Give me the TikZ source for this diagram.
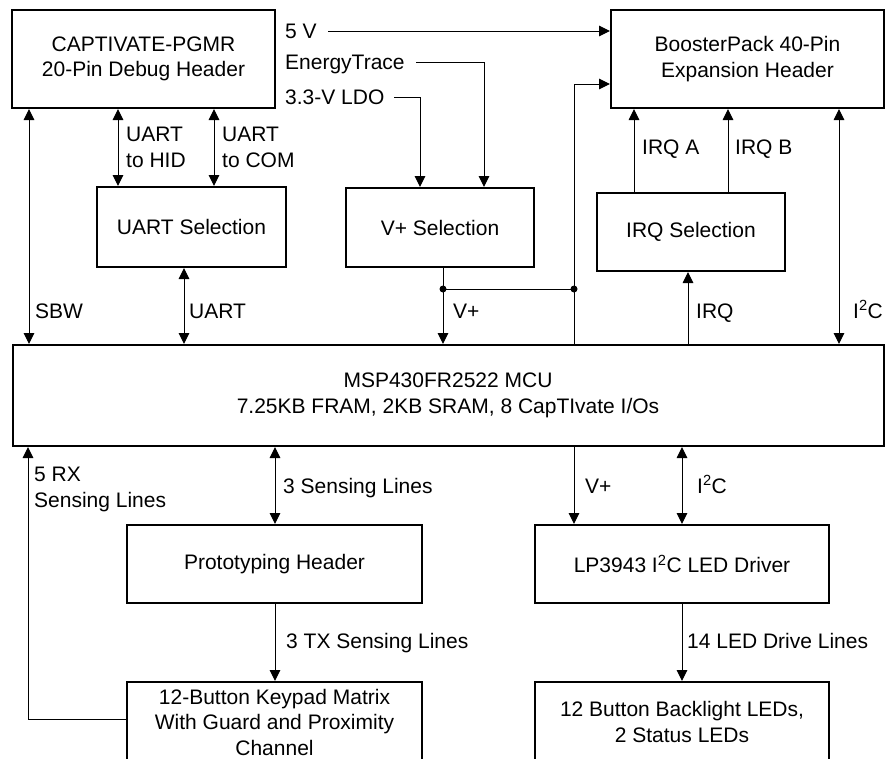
\documentclass[tikz,border=0pt]{standalone}
\usepackage{fontspec}
\setmainfont{Liberation Sans}
\usetikzlibrary{arrows.meta}
\begin{document}
\begin{tikzpicture}[x=1pt,y=-1pt,
  every node/.style={font=\fontsize{21}{25.5}\selectfont, inner sep=0pt},
  box/.style={draw, line width=2pt, align=center},
  conn/.style={line width=1pt},
  arr/.style={conn,-{Triangle[length=11pt,width=10.5pt]}},
  dbl/.style={conn,{Triangle[length=11pt,width=10.5pt]}-{Triangle[length=11pt,width=10.5pt]}},
  lbl/.style={anchor=base west, align=left},
  dot/.style={fill, circle, minimum size=7pt, inner sep=0pt}]
\useasboundingbox (0,0) rectangle (886,758);
\clip (0,0) rectangle (886,758);

% boxes
\node[box, minimum width=263pt, minimum height=98pt] (cap) at (143.5,59) {CAPTIVATE-PGMR\\20-Pin Debug Header};
\node[box, minimum width=273pt, minimum height=98pt] (boost) at (747.5,59) {BoosterPack 40-Pin\\Expansion Header};
\node[box, minimum width=189pt, minimum height=80pt] (uart) at (191.5,227) {UART Selection};
\node[box, minimum width=188pt, minimum height=79pt] (vsel) at (440,227.5) {V+ Selection};
\node[box, minimum width=188pt, minimum height=78pt] (irqs) at (691,232) {IRQ Selection};
\node[box, minimum width=871pt, minimum height=101pt] (mcu) at (448,395.5) {MSP430FR2522 MCU\\7.25KB FRAM, 2KB SRAM, 8 CapTIvate I/Os};
\node[box, minimum width=295pt, minimum height=78pt] (proto) at (274.5,564) {Prototyping Header};
\node[box, minimum width=294pt, minimum height=78pt] (lp) at (682,564) {LP3943 I\textsuperscript{2}C LED Driver};
\node[box, minimum width=295pt, minimum height=80pt] (keypad) at (274.5,722) {12-Button Keypad Matrix\\With Guard and Proximity\\Channel};
\node[box, minimum width=294pt, minimum height=80pt] (leds) at (682,722) {12 Button Backlight LEDs,\\2 Status LEDs};

% labels
\node[lbl] (l5v) at (285,38) {5 V};
\node[lbl] (let) at (285,69) {EnergyTrace};
\node[lbl] (lldo) at (285,104) {3.3-V LDO};
\node[lbl] (lhid) at (126,167) {UART\\to HID};
\node[lbl] (lcom) at (222,167) {UART\\to COM};
\node[lbl] (lsbw) at (35,318) {SBW};
\node[lbl] (luart) at (189,318) {UART};
\node[lbl] (lvp) at (453,318) {V+};
\node[lbl] (lirq) at (696,318) {IRQ};
\node[lbl] (li2c) at (853,318) {I\textsuperscript{2}C};
\node[lbl] (lirqa) at (642,154) {IRQ A};
\node[lbl] (lirqb) at (735,154) {IRQ B};
\node[lbl] (lrx) at (34,507) {5 RX\\Sensing Lines};
\node[lbl] (l3s) at (283,493) {3 Sensing Lines};
\node[lbl] (l3tx) at (286,648) {3 TX Sensing Lines};
\node[lbl] (lvb) at (585,493) {V+};
\node[lbl] (li2cb) at (697,493) {I\textsuperscript{2}C};
\node[lbl] (l14) at (687,648) {14 LED Drive Lines};

% column / row coordinates
\coordinate (xSBW) at (29,0);
\coordinate (xHID) at (118,0);
\coordinate (xCOM) at (214,0);
\coordinate (xUART) at (184,0);
\coordinate (xLDO) at (420,0);
\coordinate (xET) at (484,0);
\coordinate (xVp) at (443,0);
\coordinate (xJ) at (574,0);
\coordinate (xIRQ) at (688,0);
\coordinate (xIRQA) at (634,0);
\coordinate (xIRQB) at (728,0);
\coordinate (xI2C) at (839,0);
\coordinate (xRX) at (28,0);
\coordinate (x3S) at (275,0);
\coordinate (xVb) at (574,0);
\coordinate (xI2Cb) at (682,0);
\coordinate (y5V) at (0,31);
\coordinate (yET) at (0,62);
\coordinate (yLDO) at (0,97);
\coordinate (yB) at (0,84);
\coordinate (yJ) at (0,289);
\coordinate (yRX) at (0,719);
\coordinate (s5V) at (328,0);
\coordinate (sET) at (416,0);
\coordinate (sLDO) at (394,0);

% connectors
\draw[dbl] (cap.south -| xSBW) -- (mcu.north -| xSBW);
\draw[dbl] (cap.south -| xHID) -- (uart.north -| xHID);
\draw[dbl] (cap.south -| xCOM) -- (uart.north -| xCOM);
\draw[dbl] (uart.south -| xUART) -- (mcu.north -| xUART);
\draw[arr] (s5V |- y5V) -- (boost.west |- y5V);
\draw[arr] (sET |- yET) -| (vsel.north -| xET);
\draw[arr] (sLDO |- yLDO) -| (vsel.north -| xLDO);
\draw[arr] (mcu.north -| xJ) |- (boost.west |- yB);
\draw[arr] (vsel.south -| xVp) -- (mcu.north -| xVp);
\draw[conn] (xVp |- yJ) -- (xJ |- yJ);
\node[dot] (j1) at (xVp |- yJ) {};
\node[dot] (j2) at (xJ |- yJ) {};
\draw[arr] (mcu.north -| xIRQ) -- (irqs.south -| xIRQ);
\draw[arr] (irqs.north -| xIRQA) -- (boost.south -| xIRQA);
\draw[arr] (irqs.north -| xIRQB) -- (boost.south -| xIRQB);
\draw[dbl] (boost.south -| xI2C) -- (mcu.north -| xI2C);
\draw[arr] (keypad.west |- yRX) -| (mcu.south -| xRX);
\draw[dbl] (mcu.south -| x3S) -- (proto.north -| x3S);
\draw[arr] (proto.south -| x3S) -- (keypad.north -| x3S);
\draw[arr] (mcu.south -| xVb) -- (lp.north -| xVb);
\draw[dbl] (mcu.south -| xI2Cb) -- (lp.north -| xI2Cb);
\draw[arr] (lp.south -| xI2Cb) -- (leds.north -| xI2Cb);
\end{tikzpicture}
\end{document}
